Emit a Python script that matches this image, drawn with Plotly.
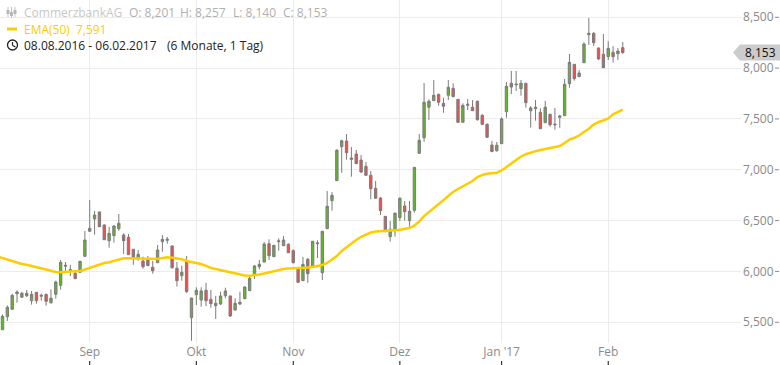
import plotly.graph_objects as go

opens = [5427,5555,5628,5781,5746,5785,5712,5795,5756,5775,5693,5775,5864,6051,6007,5982,5992,6149,6395,6516,
6585,6457,6302,6352,6420,6359,6336,6218,6132,6103,6113,6041,6086,6293,6306,6250,6031,5958,6096,5545,
5771,5719,5815,5726,5663,5680,5761,5759,5621,5680,5732,5811,5965,6047,6093,6273,6145,6293,6253,6267,
6204,6037,5909,6120,6047,6273,5988,6421,6696,6893,7227,7283,7116,7155,7096,7034,6946,6818,6722,6542,
6342,6408,6529,6644,6499,6601,7162,7316,7615,7680,7742,7654,7733,7801,7693,7467,7634,7615,7674,7536,
7447,7244,7188,7257,7571,7851,7844,7798,7851,7581,7601,7565,7463,7546,7450,7516,7532,7847,8038,7916,
8053,8329,8342,8198,8136,8114,8156,8142,8201]
highs = [5578,5667,5781,5815,5801,5818,5808,5798,5781,5781,5824,5909,6113,6093,6066,5998,6100,6398,6703,6595,
6588,6464,6440,6457,6565,6375,6368,6218,6211,6145,6152,6103,6260,6358,6339,6257,6093,6057,6152,5739,
5844,5844,5889,5818,5761,5801,5840,5761,5736,5801,5854,5948,6063,6113,6290,6316,6257,6326,6349,6277,
6218,6041,6142,6132,6297,6306,6395,6791,6781,7202,7296,7352,7224,7195,7145,7077,6988,6890,6732,6545,
6496,6582,6729,6693,6693,7024,7352,7854,7693,7883,7748,7709,7883,7851,7695,7654,7696,7686,7680,7546,
7457,7283,7273,7516,7863,7972,7972,7883,7854,7627,7686,7605,7677,7549,7608,7539,7893,8139,8040,7981,
8254,8493,8355,8201,8336,8264,8215,8198,8257]
lows = [5424,5513,5625,5693,5742,5749,5673,5683,5712,5663,5683,5732,5821,6001,5955,5926,5985,6142,6391,6361,
6438,6309,6234,6283,6401,6172,6162,6066,6106,6027,6055,5978,6084,6194,6273,6027,5850,5909,5791,5319,
5670,5653,5660,5643,5532,5670,5736,5552,5614,5670,5729,5809,5926,6021,6090,6113,6143,6204,6250,6182,
6080,5889,5907,5889,6045,6132,5916,6419,6598,6890,6971,7099,6932,7057,6968,6939,6710,6716,6555,6385,
6293,6342,6496,6499,6440,6578,7160,7276,7490,7677,7630,7561,7686,7716,7465,7465,7588,7579,7483,7440,
7313,7172,7178,7255,7512,7745,7775,7729,7611,7414,7483,7402,7461,7424,7394,7414,7530,7807,7876,7913,
8051,8227,8218,8080,8002,8080,8055,8080,8140]
closes = [5559,5647,5765,5798,5785,5761,5775,5712,5765,5706,5736,5896,6090,6060,6017,5929,6100,6309,6424,6555,
6440,6312,6375,6447,6474,6302,6165,6132,6169,6047,6057,6007,6211,6316,6316,6037,5909,5992,5801,5739,
5815,5808,5712,5683,5687,5759,5808,5562,5687,5697,5847,5933,6054,6070,6270,6155,6257,6300,6309,6184,
6086,5893,6070,5978,6297,6280,6395,6641,6749,7192,7286,7168,7103,7060,6978,6946,6814,6720,6598,6398,
6415,6572,6720,6588,6592,7024,7290,7664,7674,7733,7664,7624,7811,7719,7467,7634,7644,7581,7493,7447,
7320,7180,7241,7500,7821,7814,7837,7851,7660,7608,7615,7404,7615,7443,7443,7529,7841,8057,7896,7952,
8237,8342,8250,8090,8004,8195,8112,8168,8153]
ema50 = [6147,6132,6118,6098,6083,6073,6065,6054,6041,6027,6017,6004,5995,5992,5998,5999,6001,6004,6019,6034,
6054,6068,6083,6090,6103,6122,6129,6129,6129,6126,6122,6122,6122,6122,6132,6139,6134,6127,6120,6103,
6093,6083,6073,6054,6034,6024,6014,6004,5992,5980,5968,5960,5957,5962,5970,5980,5992,6001,6011,6024,
6029,6034,6034,6034,6038,6044,6054,6063,6083,6118,6152,6201,6240,6275,6309,6341,6363,6383,6393,6398,
6398,6405,6406,6410,6418,6427,6452,6491,6545,6585,6624,6659,6698,6737,6782,6811,6836,6860,6890,6929,
6949,6960,6968,6971,6993,7027,7067,7101,7131,7153,7170,7183,7195,7204,7212,7222,7234,7263,7296,7315,
7337,7372,7403,7445,7470,7485,7506,7546,7565,7591]

month_labels = ["Sep", "Okt", "Nov", "Dez", "Jan '17", "Feb"]
month_index = [18, 40, 60, 82, 103, 125]
price_ticks = [5500, 6000, 6500, 7000, 7500, 8000, 8500]
price_labels = ["5,500", "6,000", "6,500", "7,000", "7,500", "8,000", "8,500"]

W, H = 780, 365
PLOT_R = 741
PLOT_B = 343
def px(x): return x / W
def py(y): return 1 - y / H

fig = go.Figure()
fig.add_trace(go.Candlestick(
    x=list(range(len(opens))), open=opens, high=highs, low=lows, close=closes,
    increasing=dict(line=dict(color="#7b7b7b", width=1), fillcolor="#63b52e"),
    decreasing=dict(line=dict(color="#7b7b7b", width=1), fillcolor="#ee5050"),
    whiskerwidth=0, showlegend=False, hoverinfo="skip"))
fig.add_trace(go.Scatter(
    x=list(range(-1, len(ema50) - 1)), y=ema50, mode="lines",
    line=dict(color="#ffcc00", width=2.5), showlegend=False, hoverinfo="skip"))

GREY = "#8a8a8a"
ann = []
def text(x, y, s, color, size=12):
    ann.append(dict(xref="paper", yref="paper", x=px(x), y=py(y), text=s, showarrow=False,
                    xanchor="left", yanchor="middle", xshift=-2, align="left",
                    font=dict(family="Open Sans", size=size, color=color)))
text(24, 13, "CommerzbankAG", "#c8c8c8")
text(129, 13, "O: 8,201", "#b0b0b0")
text(180, 13, "H: 8,257", "#b0b0b0")
text(233, 13, "L: 8,140", "#b0b0b0")
text(283, 13, "C: 8,153", "#b0b0b0")
text(24, 29, "EMA(50)", "#ffcc00")
text(76, 29, "7,591", "#ffcc00")
text(24, 45, "08.08.2016 - 06.02.2017", "#222222")
text(167, 45, "(6 Monate, 1 Tag)", "#222222")
ann.append(dict(xref="paper", yref="y", x=px(760), y=closes[-1], text="8,153", showarrow=False,
                xanchor="center", yanchor="middle",
                font=dict(family="Open Sans", size=12, color="#111111")))

shapes = []
shapes.append(dict(type="path", xref="paper", yref="y", xsizemode="pixel", ysizemode="pixel",
                   xanchor=1, yanchor=closes[-1], layer="above",
                   path="M -47 0 L -40 8 L 0 8 L 0 -8 L -40 -8 Z",
                   fillcolor="#cccccc", line=dict(width=0)))
def pline(x0, y0, x1, y1, color, width=1):
    shapes.append(dict(type="line", xref="paper", yref="paper", x0=px(x0), y0=py(y0), x1=px(x1), y1=py(y1),
                       line=dict(color=color, width=width)))
# candlestick icon
for xc, top, bt, b0, b1 in [(8, 7, 17, 10, 14), (11.5, 7, 18, 12, 16), (15, 7, 17, 10, 14)]:
    pline(xc, top, xc, bt, "#c4c4c4", 1)
    pline(xc, b0, xc, b1, "#b8b8b8", 3)
# EMA swatch
pline(7, 29, 17, 29, "#ffcc00", 3)
# clock
shapes.append(dict(type="circle", xref="paper", yref="paper", x0=px(7.5), x1=px(17.5), y0=py(50), y1=py(40),
                   line=dict(color="#222222", width=1.3)))
pline(12.5, 42, 12.5, 45.5, "#222222", 1.2)
pline(12.5, 45.5, 15.5, 47, "#222222", 1.2)
# axis tick marks, placed by the data scales
for m in month_index:
    shapes.append(dict(type="line", xref="x", yref="paper", x0=m, x1=m, y0=0, y1=4 / H,
                       line=dict(color="#111111", width=1)))
for p in price_ticks:
    shapes.append(dict(type="line", xref="paper", yref="y", x0=px(775), x1=px(779), y0=p, y1=p,
                       line=dict(color=GREY, width=1)))

fig.update_layout(
    width=W, height=H, margin=dict(l=0, r=0, t=0, b=0), autosize=False,
    paper_bgcolor="white", plot_bgcolor="white", showlegend=False,
    annotations=ann, shapes=shapes,
    xaxis=dict(domain=[0, PLOT_R / W], range=[-0.516, 152.4], anchor="free", position=0, side="top",
               tickmode="array", tickvals=month_index, ticktext=month_labels,
               showgrid=True, gridcolor="#ececec", gridwidth=1, zeroline=False, showline=False,
               ticks="outside", ticklen=4, tickcolor="rgba(0,0,0,0)", tickwidth=1, rangeslider=dict(visible=False),
               tickfont=dict(family="Open Sans", size=12, color=GREY)),
    yaxis=dict(domain=[1 - PLOT_B / H, 1], range=[8670 - 9.836 * PLOT_B, 8670], anchor="free", position=1, side="left",
               tickmode="array", tickvals=price_ticks, ticktext=price_labels,
               showgrid=True, gridcolor="#ececec", gridwidth=1, zeroline=False, showline=False,
               ticks="outside", ticklen=4, tickcolor="rgba(0,0,0,0)", tickwidth=1,
               tickfont=dict(family="Open Sans", size=12, color=GREY)),
)
fig.write_html("out.html", config=dict(displayModeBar=False),
               post_script="document.body.style.margin='0';document.documentElement.style.overflow='hidden';")
